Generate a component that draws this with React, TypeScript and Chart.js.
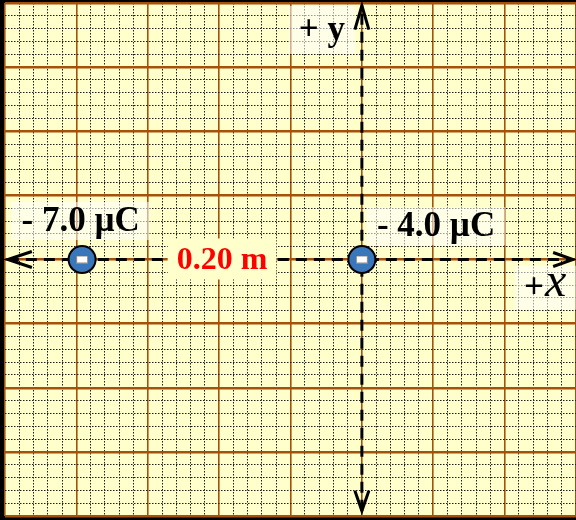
import { useEffect, useRef } from 'react';
import { Chart, registerables } from 'chart.js';

Chart.register(...registerables);

// grid extent in minor-grid units (5 minor squares per major square)
const xRange = [-25, 15];
const yRange = [-20, 20];
const majorEvery = 5;

// charges
const chargeX = [-19.6, 0];
const chargeY = [0, 0];
const chargeLabels = ['- 7.0 \u00B5C', '- 4.0 \u00B5C'];
const chargeLabelX = [-19.7, 5.2];
const chargeLabelY = [3.0, 2.6];

// distance between charges
const distanceLabel = '0.20 m';

// axes (dashed lines with arrowheads)
const xAxisEnds = [-24.8, 14.8];
const yAxisEnds = [-19.6, 19.8];
const yAxisName = '+ y';
const yAxisNamePos = [-2.8, 17.9];
const xAxisNamePlus = '+';
const xAxisNameLetter = 'x';
const xAxisNamePos = [12.9, -2.2];

const SERIF = '"Liberation Serif", "Times New Roman", serif';
const CREAM = '#FFFFCC';
const BROWN = '#A4510B';

function makeMinusSign(): HTMLCanvasElement {
  const c = document.createElement('canvas');
  c.width = 12;
  c.height = 8;
  const g = c.getContext('2d')!;
  g.fillStyle = '#ffffff';
  g.fillRect(1, 1, 10, 6);
  g.strokeStyle = '#8a8a8a';
  g.lineWidth = 1;
  g.strokeRect(0.5, 0.5, 11, 7);
  return c;
}

const zeroFit = (s: any) => {
  if (s.isHorizontal()) s.height = 0;
  else s.width = 0;
  s.paddingLeft = 0;
  s.paddingRight = 0;
  s.paddingTop = 0;
  s.paddingBottom = 0;
};

const paperPlugin = {
  id: 'paper',
  beforeDraw(chart: any) {
    const { ctx, chartArea: a } = chart;
    ctx.save();
    ctx.fillStyle = '#000000';
    ctx.fillRect(0, 0, chart.width, chart.height);
    ctx.fillStyle = CREAM;
    ctx.fillRect(a.left, a.top, a.right - a.left, a.bottom - a.top);
    ctx.restore();
  },
  beforeDatasetsDraw(chart: any) {
    const { ctx, scales } = chart;
    const xs = scales.x;
    const ys = scales.y;
    ctx.save();
    ctx.fillStyle = 'rgba(255,255,255,0.55)';
    ctx.font = `bold 35px ${SERIF}`;
    const box = (cx: number, cy: number, w: number, h: number) => {
      ctx.fillRect(cx - w / 2, cy - h / 2, w, h);
    };
    chargeLabels.forEach((t, i) => {
      const w = ctx.measureText(t).width;
      box(xs.getPixelForValue(chargeLabelX[i]), ys.getPixelForValue(chargeLabelY[i]), w + 20, 38);
    });
    {
      const w = ctx.measureText(yAxisName).width;
      box(xs.getPixelForValue(yAxisNamePos[0]), ys.getPixelForValue(yAxisNamePos[1]), w + 20, 48);
    }
    box(xs.getPixelForValue(xAxisNamePos[0]) + 4, ys.getPixelForValue(xAxisNamePos[1]), 70, 44);
    ctx.restore();
  },
  afterDatasetsDraw(chart: any) {
    const { ctx, scales } = chart;
    const xs = scales.x;
    const ys = scales.y;
    ctx.save();
    // arrowheads
    ctx.strokeStyle = '#000';
    ctx.lineWidth = 3;
    ctx.lineJoin = 'miter';
    ctx.setLineDash([]);
    const y0 = ys.getPixelForValue(0);
    const x0 = xs.getPixelForValue(0);
    const head = (pts: number[][]) => {
      ctx.beginPath();
      ctx.moveTo(pts[0][0], pts[0][1]);
      ctx.lineTo(pts[1][0], pts[1][1]);
      ctx.lineTo(pts[2][0], pts[2][1]);
      ctx.stroke();
    };
    const xl = xs.getPixelForValue(xAxisEnds[0]);
    const xr = xs.getPixelForValue(xAxisEnds[1]);
    const yt = ys.getPixelForValue(yAxisEnds[1]);
    const yb = ys.getPixelForValue(yAxisEnds[0]);
    head([[xl + 24, y0 - 8], [xl, y0], [xl + 24, y0 + 8]]);
    head([[xr - 20, y0 - 7], [xr, y0], [xr - 20, y0 + 7]]);
    head([[x0 - 7, yt + 24], [x0, yt], [x0 + 7, yt + 24]]);
    head([[x0 - 7, yb - 20], [x0, yb], [x0 + 7, yb - 20]]);

    // distance label with opaque box
    const mx = (xs.getPixelForValue(chargeX[0]) + xs.getPixelForValue(chargeX[1])) / 2;
    const my = (ys.getPixelForValue(chargeY[0]) + ys.getPixelForValue(chargeY[1])) / 2;
    ctx.font = `bold 32px ${SERIF}`;
    const dw = ctx.measureText(distanceLabel).width;
    ctx.fillStyle = CREAM;
    ctx.fillRect(mx - dw / 2 - 9, my - 21, dw + 18, 41);
    ctx.fillStyle = '#FF0000';
    ctx.textAlign = 'center';
    ctx.textBaseline = 'middle';
    ctx.fillText(distanceLabel, mx, my + 1);

    // charge labels
    ctx.fillStyle = '#000';
    ctx.font = `bold 35px ${SERIF}`;
    chargeLabels.forEach((t, i) => {
      ctx.fillText(t, xs.getPixelForValue(chargeLabelX[i]), ys.getPixelForValue(chargeLabelY[i]) + 1);
    });
    // axis names
    ctx.fillText(yAxisName, xs.getPixelForValue(yAxisNamePos[0]), ys.getPixelForValue(yAxisNamePos[1]) + 1);
    const ax = xs.getPixelForValue(xAxisNamePos[0]);
    const ay = ys.getPixelForValue(xAxisNamePos[1]);
    ctx.textAlign = 'right';
    ctx.fillText(xAxisNamePlus, ax - 2, ay + 1);
    ctx.textAlign = 'left';
    ctx.font = `italic 48px ${SERIF}`;
    ctx.fillText(xAxisNameLetter, ax - 1, ay - 4);
    ctx.restore();
  },
};

const gridColor = (c: any) => (c.tick && c.tick.value % majorEvery === 0 ? BROWN : '#1e1e1e');
const gridDash = (c: any) => (c.tick && c.tick.value % majorEvery === 0 ? [] : [1.5, 1.5]);

export default function App() {
  const ref = useRef<HTMLCanvasElement | null>(null);
  useEffect(() => {
    if (!ref.current) return;
    const minus = makeMinusSign();
    const chart = new Chart(ref.current, {
      type: 'scatter',
      data: {
        datasets: [
          {
            label: 'minus',
            data: chargeX.map((x, i) => ({ x, y: chargeY[i] })),
            pointStyle: minus as any,
            pointRadius: 6,
            order: 0,
          },
          {
            label: 'charges',
            data: chargeX.map((x, i) => ({ x, y: chargeY[i] })),
            pointStyle: 'circle',
            pointRadius: 13.5,
            backgroundColor: '#3A76BA',
            borderColor: '#000000',
            borderWidth: 2,
            order: 1,
          },
          {
            label: 'x-axis',
            data: xAxisEnds.map((x) => ({ x, y: 0 })),
            showLine: true,
            borderColor: '#000000',
            borderWidth: 3,
            borderDash: [11, 7],
            pointRadius: 0,
            order: 2,
          },
          {
            label: 'y-axis',
            data: yAxisEnds.map((y) => ({ x: 0, y })),
            showLine: true,
            borderColor: '#000000',
            borderWidth: 3,
            borderDash: [11, 7],
            pointRadius: 0,
            order: 3,
          },
        ],
      },
      options: {
        animation: false,
        responsive: false,
        devicePixelRatio: 1,
        events: [],
        layout: { autoPadding: false, padding: { left: 5, top: 3, right: 0, bottom: 4 } },
        plugins: { legend: { display: false }, tooltip: { enabled: false } },
        scales: {
          x: {
            type: 'linear',
            min: xRange[0],
            max: xRange[1],
            afterFit: zeroFit,
            ticks: { display: false, stepSize: 1, maxTicksLimit: 200 },
            grid: {
              drawTicks: false,
              color: gridColor,
              lineWidth: (c: any) => (c.tick && c.tick.value % majorEvery === 0 ? 1.6 : 1),
            },
            border: { display: false, dash: gridDash },
          },
          y: {
            type: 'linear',
            min: yRange[0],
            max: yRange[1],
            afterFit: zeroFit,
            ticks: { display: false, stepSize: 1, maxTicksLimit: 200 },
            grid: {
              drawTicks: false,
              color: gridColor,
              lineWidth: (c: any) => (c.tick && c.tick.value % majorEvery === 0 ? 2.5 : 1),
            },
            border: { display: false, dash: gridDash },
          },
        },
      },
      plugins: [paperPlugin],
    } as any);
    return () => chart.destroy();
  }, []);
  return (
    <div style={{ position: 'absolute', left: 0, top: 0, width: 576, height: 520, overflow: 'hidden' }}>
      <canvas ref={ref} width={576} height={520} />
    </div>
  );
}
